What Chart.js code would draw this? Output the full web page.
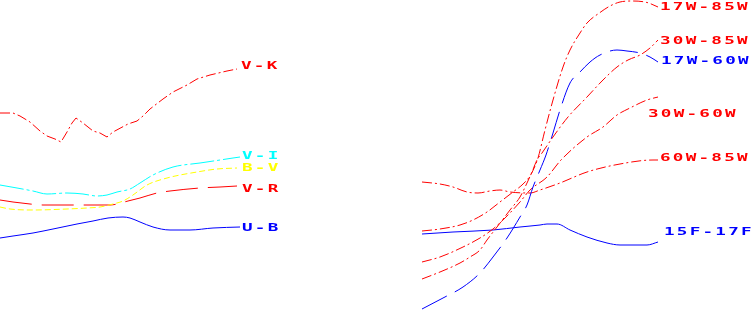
<!DOCTYPE html>
<html>
<head>
<meta charset="utf-8">
<script src="https://cdn.jsdelivr.net/npm/chart.js@4/dist/chart.umd.min.js"></script>
<style>
  html, body { margin: 0; padding: 0; background: #fff; }
  #wrap { position: relative; width: 751px; height: 311px; overflow: hidden; }
  #esq { position: absolute; left: 0; top: 0; width: 300px; height: 311px; }
  #dir { position: absolute; left: 420px; top: 0; width: 331px; height: 311px; }
</style>
</head>
<body>
<div id="wrap">
  <canvas id="esq" width="300" height="311"></canvas>
  <canvas id="dir" width="331" height="311"></canvas>
</div>
<script>
/* ===== painel esquerdo: índices de cor (mag, eixo invertido) ===== */
const VK_X = [0, 6.5, 10, 15, 20, 23.5, 27.5, 30.5, 33.5, 36, 38, 41.5, 46.5, 50, 53.5, 56.5, 64, 68.5, 71.5, 75, 81.5, 86.5, 93.5, 98.5, 105, 113.5, 118.5];
const VK_Y = [1.13, 1.13, 1.16, 1.22, 1.31, 1.36, 1.39, 1.42, 1.32, 1.23, 1.18, 1.23, 1.31, 1.33, 1.37, 1.32, 1.24, 1.21, 1.16, 1.09, 0.99, 0.92, 0.85, 0.79, 0.75, 0.71, 0.69];

const VI_X = [0, 8.5, 16.5, 23.5, 33.5, 41.5, 48.5, 53.5, 58.5, 65, 70, 76.5, 86.5, 100, 110, 116.5, 120];
const VI_Y = [1.85, 1.88, 1.91, 1.94, 1.93, 1.94, 1.96, 1.95, 1.92, 1.89, 1.83, 1.75, 1.67, 1.63, 1.60, 1.58, 1.57];

const BV_X = [0, 5, 16.5, 33.5, 43.5, 50, 56.5, 61.5, 66.5, 73.5, 83.5, 98.5, 108.5, 118.5];
const BV_Y = [2.07, 2.09, 2.10, 2.09, 2.08, 2.07, 2.04, 2.01, 1.95, 1.85, 1.78, 1.72, 1.69, 1.68];

const VR_X = [0, 6.5, 15, 21.5, 38.5, 43.5, 55, 58.5, 64, 70, 78.5, 85, 100, 110, 118.5];
const VR_Y = [2.00, 2.02, 2.04, 2.05, 2.05, 2.05, 2.05, 2.04, 2.01, 1.98, 1.93, 1.91, 1.88, 1.87, 1.86];

const UB_X = [0, 6.5, 16.5, 26.5, 38.5, 46.5, 54, 61.5, 65, 70, 76.5, 85, 95, 106.5, 120];
const UB_Y = [2.38, 2.36, 2.33, 2.29, 2.24, 2.21, 2.18, 2.17, 2.18, 2.22, 2.27, 2.30, 2.30, 2.28, 2.27];

/* ===== painel direito: cores de filtros estreitos ===== */
const W17_85_X = [0, 9, 19, 25.5, 32.5, 39, 45.5, 50, 54, 56.5, 58, 61.5, 65.5, 70.5, 74, 79, 82.5, 89, 94, 99, 105.5, 112.5, 118];
const W17_85_Y = [2.31, 2.29, 2.25, 2.20, 2.12, 2.02, 1.92, 1.85, 1.76, 1.66, 1.58, 1.30, 1.00, 0.67, 0.50, 0.33, 0.23, 0.125, 0.06, 0.02, 0.01, 0.025, 0.07];

const W30_85_X = [0, 9, 19, 24, 29, 32.5, 37.5, 44, 49, 52.5, 55, 57.5, 60, 65.5, 73, 82.5, 90.5, 97.5, 103, 109, 114, 118];
const W30_85_Y = [2.79, 2.72, 2.63, 2.57, 2.50, 2.40, 2.27, 2.10, 1.97, 1.83, 1.72, 1.60, 1.53, 1.37, 1.17, 0.97, 0.80, 0.67, 0.60, 0.55, 0.48, 0.40];

const W17_60_X = [0, 10.5, 20.5, 29, 35.5, 42.5, 49, 52.5, 55.5, 59, 62, 65.5, 69, 74, 79, 84, 89, 97.5, 102.5, 109, 114, 118];
const W17_60_Y = [3.09, 2.98, 2.87, 2.73, 2.57, 2.38, 2.17, 2.05, 1.87, 1.70, 1.55, 1.33, 1.10, 0.83, 0.72, 0.62, 0.55, 0.50, 0.51, 0.53, 0.57, 0.62];

const W30_60_X = [0, 9, 20.5, 29, 35.5, 42, 49, 54, 62.5, 69.5, 82.5, 90.5, 97.5, 104, 112.5, 118];
const W30_60_Y = [2.62, 2.57, 2.47, 2.38, 2.29, 2.17, 2.02, 1.90, 1.77, 1.60, 1.37, 1.27, 1.15, 1.08, 1.00, 0.97];

const W60_85_X = [0, 9, 15.5, 22.5, 28, 34, 39, 44, 54, 59, 69, 82.5, 99, 115.5, 118];
const W60_85_Y = [1.82, 1.84, 1.87, 1.92, 1.93, 1.91, 1.90, 1.92, 1.93, 1.90, 1.83, 1.72, 1.64, 1.60, 1.60];

const F15_17_X = [0, 15.5, 35.5, 49, 59, 62.5, 67.5, 74, 82.5, 92.5, 99, 112.5, 118];
const F15_17_Y = [2.34, 2.32, 2.30, 2.27, 2.25, 2.24, 2.24, 2.30, 2.37, 2.43, 2.45, 2.45, 2.42];

/* ===== utilitários ===== */
const VERMELHO = "#ff0000";
const AZUL = "#0000ff";
const CIANO = "#00ffff";
const AMARELO = "#ffff00";

function pontos(xs, ys) {
  return xs.map((x, i) => ({ x, y: ys[i] }));
}

function serie(label, xs, ys, cor, dash, desloc, suave = true) {
  return {
    label,
    data: pontos(xs, ys),
    borderColor: cor,
    borderWidth: 1,
    borderDash: dash,
    pointRadius: 0,
    fill: false,
    clip: false,
    cubicInterpolationMode: suave ? "monotone" : "default",
    tension: 0,
    rotuloDesloc: desloc
  };
}

// rótulo no fim de cada curva, na cor da curva
const rotulos = {
  id: "rotulos",
  afterDatasetsDraw(chart) {
    const ctx = chart.ctx;
    chart.data.datasets.forEach((ds, i) => {
      const meta = chart.getDatasetMeta(i);
      const ult = meta.data[meta.data.length - 1];
      const [dx, dy] = ds.rotuloDesloc || [2, 0];
      ctx.save();
      ctx.translate(ult.x + dx, ult.y + dy + 4);
      ctx.scale(1.6, 1);
      ctx.font = "bold 11px 'DejaVu Sans Mono'";
      ctx.letterSpacing = "1.4px";
      ctx.textBaseline = "alphabetic";
      ctx.fillStyle = ds.borderColor;
      ctx.fillText(ds.label, 0, 0);
      ctx.restore();
    });
  }
};

function opcoes(xMax, padding) {
  return {
    responsive: false,
    animation: false,
    events: [],
    layout: { padding },
    plugins: { legend: { display: false }, tooltip: { enabled: false } },
    scales: {
      x: { type: "linear", min: 0, max: xMax, display: false },
      y: { type: "linear", min: 0, max: 3.11, reverse: true, display: false }
    }
  };
}

/* ===== painel esquerdo ===== */
new Chart(document.getElementById("esq").getContext("2d"), {
  type: "line",
  data: {
    datasets: [
      serie("V-K", VK_X, VK_Y, VERMELHO, [10, 3, 2, 3], [4, -4.5], false),
      serie("V-I", VI_X, VI_Y, CIANO, [24, 3, 3, 3], [2, -2]),
      serie("B-V", BV_X, BV_Y, AMARELO, [6, 3], [5, -1.5]),
      serie("V-R", VR_X, VR_Y, VERMELHO, [32, 10], [5, 2]),
      serie("U-B", UB_X, UB_Y, AZUL, [], [2, 0])
    ]
  },
  options: opcoes(120, { left: 0, right: 60, top: 0, bottom: 0 }),
  plugins: [rotulos]
});

/* ===== painel direito ===== */
new Chart(document.getElementById("dir").getContext("2d"), {
  type: "line",
  data: {
    datasets: [
      serie("17W-85W", W17_85_X, W17_85_Y, VERMELHO, [10, 3, 2, 3], [2, -1]),
      serie("30W-85W", W30_85_X, W30_85_Y, VERMELHO, [10, 3, 2, 3], [2, 0]),
      serie("17W-60W", W17_60_X, W17_60_Y, AZUL, [28, 9], [3, -2]),
      serie("30W-60W", W30_60_X, W30_60_Y, VERMELHO, [10, 3, 2, 3], [-10, 16]),
      serie("60W-85W", W60_85_X, W60_85_Y, VERMELHO, [10, 3, 2, 3], [2, -3.5]),
      serie("15F-17F", F15_17_X, F15_17_Y, AZUL, [], [6, -11.5])
    ]
  },
  options: opcoes(118, { left: 2, right: 93, top: 0, bottom: 0 }),
  plugins: [rotulos]
});
</script>
</body>
</html>
